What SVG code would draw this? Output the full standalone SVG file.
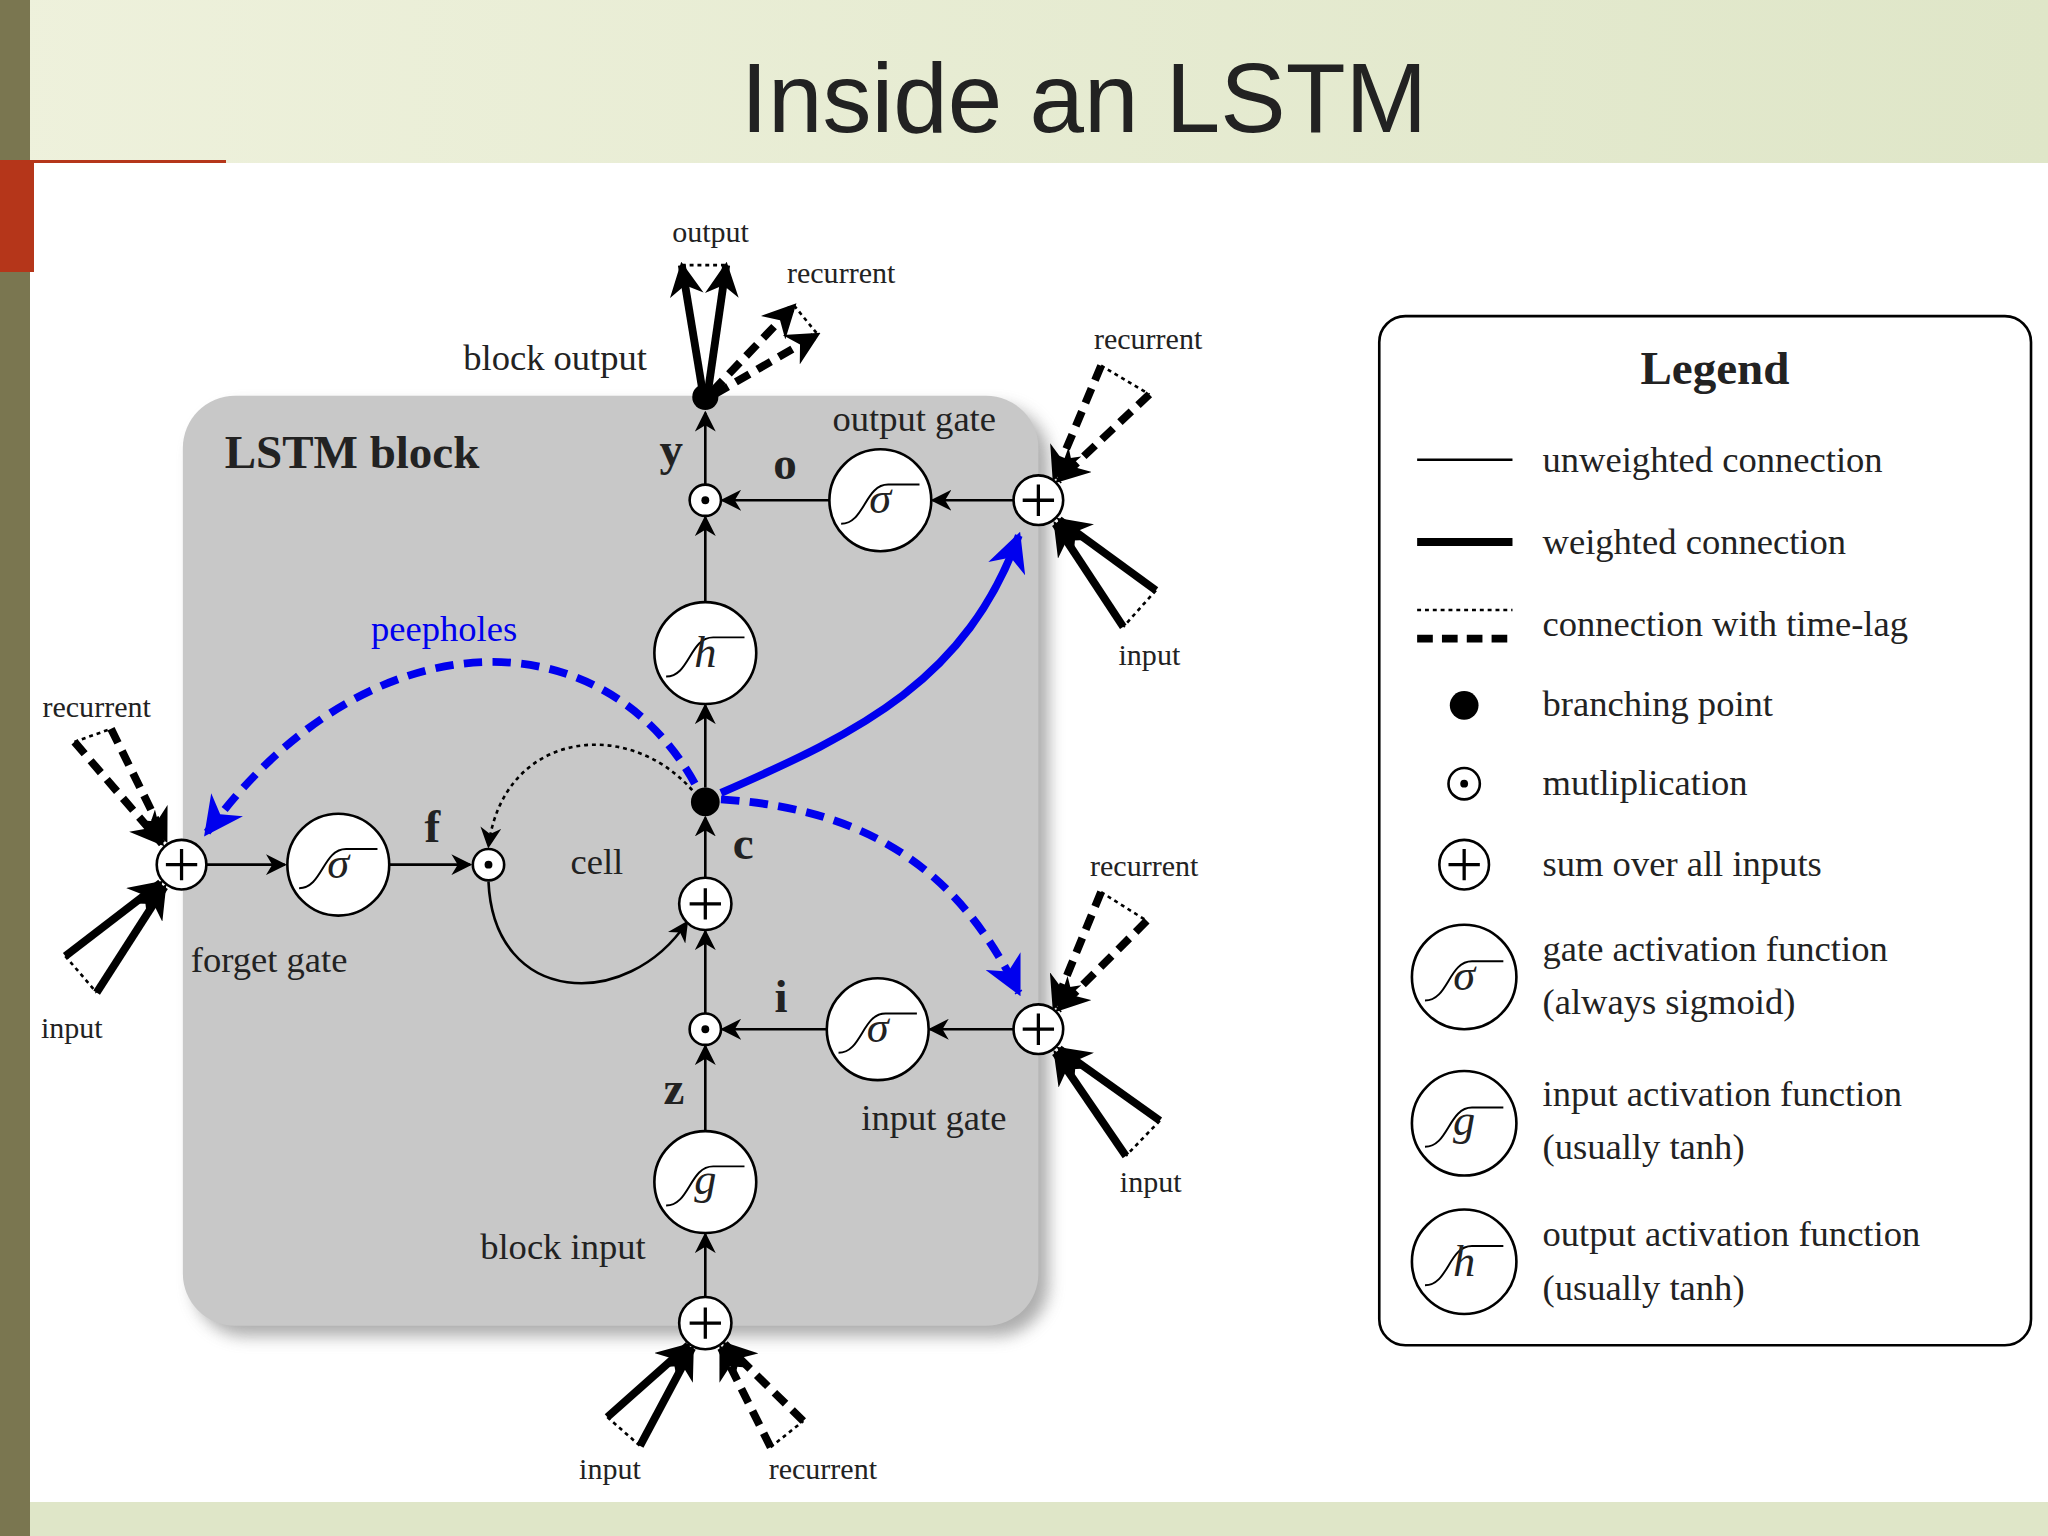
<svg xmlns="http://www.w3.org/2000/svg" width="2048" height="1536" viewBox="0 0 2048 1536">
<defs>
<linearGradient id="bg" x1="0" y1="0" x2="1" y2="0"><stop offset="0" stop-color="#eef1dc"/><stop offset="1" stop-color="#dfe6c8"/></linearGradient>
<marker id="ah" viewBox="0 0 10 10" refX="9" refY="5" markerWidth="16" markerHeight="16" markerUnits="userSpaceOnUse" orient="auto"><path d="M0,0 L10,5 L0,10 L3,5 Z" fill="#000"/></marker>
<marker id="ahb" viewBox="0 0 10 10" refX="9" refY="5" markerWidth="26" markerHeight="26" markerUnits="userSpaceOnUse" orient="auto"><path d="M0,0 L10,5 L0,10 L3,5 Z" fill="#000"/></marker>
<marker id="ahblue" viewBox="0 0 10 10" refX="9" refY="5" markerWidth="30" markerHeight="30" markerUnits="userSpaceOnUse" orient="auto"><path d="M0,0 L10,5 L0,10 L3,5 Z" fill="#0000ee"/></marker>
<filter id="sh" x="-5%" y="-5%" width="115%" height="115%"><feGaussianBlur stdDeviation="6"/></filter>
</defs>
<style>
.t{font-family:"Liberation Serif",serif;font-size:28px;fill:#222}
.s{font-family:"Liberation Serif",serif;font-size:23px;fill:#222}
.b{font-family:"Liberation Serif",serif;font-size:36px;font-weight:bold;fill:#222}
.n{fill:#fff;stroke:#000;stroke-width:2}
.thin{stroke:#000;stroke-width:2;fill:none;marker-end:url(#ah)}
.w{stroke:#000;stroke-width:6;fill:none;marker-end:url(#ahb)}
.d{stroke:#000;stroke-width:6;stroke-dasharray:12 7;fill:none;marker-end:url(#ahb)}
.dot{stroke:#000;stroke-width:2;stroke-dasharray:3 3;fill:none}
.sig{fill:none;stroke:#000;stroke-width:1.5}
.it{font-family:"Liberation Serif",serif;font-style:italic;font-size:34px;fill:#222}
</style>
<rect width="2048" height="1536" fill="#fff"/>
<rect width="2048" height="163" fill="url(#bg)"/>
<rect y="1502" width="2048" height="34" fill="#dfe6c8"/>
<rect width="30" height="1536" fill="#7a7650"/>
<rect y="160" width="34" height="112" fill="#b5361a"/>
<rect y="160" width="226" height="3" fill="#b5361a"/>
<text x="1084" y="132" text-anchor="middle" font-family="Liberation Sans,sans-serif" font-size="98" fill="#222">Inside an LSTM</text>
<g transform="scale(1.30612)">
<g id="block">
<rect x="148" y="311" width="655" height="712" rx="40" fill="#777" opacity="0.6" filter="url(#sh)"/>
<rect x="140" y="303" width="655" height="712" rx="40" fill="#c8c8c8"/>
<text x="172" y="358" class="b" font-size="34">LSTM block</text>
</g>
<g id="connectors">
<line x1="158" y1="662" x2="218" y2="662" class="thin"/>
<line x1="298" y1="662" x2="360" y2="662" class="thin"/>
<line x1="776" y1="383" x2="714" y2="383" class="thin"/>
<line x1="635" y1="383" x2="553" y2="383" class="thin"/>
<line x1="776" y1="788" x2="712" y2="788" class="thin"/>
<line x1="633" y1="788" x2="553" y2="788" class="thin"/>
<line x1="540" y1="993" x2="540" y2="945" class="thin"/>
<line x1="540" y1="866" x2="540" y2="801" class="thin"/>
<line x1="540" y1="776" x2="540" y2="713" class="thin"/>
<line x1="540" y1="672" x2="540" y2="626" class="thin"/>
<line x1="540" y1="603" x2="540" y2="540" class="thin"/>
<line x1="540" y1="461" x2="540" y2="396" class="thin"/>
<line x1="540" y1="371" x2="540" y2="316" class="thin"/>
<path d="M374,675 C378,770 480,775 526,706" class="thin"/>
<path d="M530,605 C480,548 385,560 374,648" class="thin" stroke-dasharray="3 3"/>
<!-- bundles -->
<line x1="465" y1="1085" x2="527" y2="1030" class="w"/><line x1="490" y1="1107" x2="530" y2="1032" class="w"/><line x1="465" y1="1085" x2="490" y2="1107" class="dot"/>
<line x1="590" y1="1108" x2="552" y2="1032" class="d"/><line x1="615" y1="1088" x2="555" y2="1029" class="d"/><line x1="590" y1="1108" x2="615" y2="1088" class="dot"/>
<line x1="50" y1="732" x2="123" y2="676" class="w"/><line x1="74" y1="760" x2="126" y2="679" class="w"/><line x1="50" y1="732" x2="74" y2="760" class="dot"/>
<line x1="57" y1="568" x2="124" y2="646" class="d"/><line x1="85" y1="558" x2="127" y2="643" class="d"/><line x1="57" y1="568" x2="85" y2="558" class="dot"/>
<line x1="843" y1="280" x2="807" y2="366" class="d"/><line x1="880" y1="302" x2="810" y2="368" class="d"/><line x1="843" y1="280" x2="880" y2="302" class="dot"/>
<line x1="885" y1="452" x2="811" y2="398" class="w"/><line x1="860" y1="480" x2="808" y2="401" class="w"/><line x1="885" y1="452" x2="860" y2="480" class="dot"/>
<line x1="843" y1="683" x2="807" y2="771" class="d"/><line x1="878" y1="705" x2="810" y2="773" class="d"/><line x1="843" y1="683" x2="878" y2="705" class="dot"/>
<line x1="888" y1="858" x2="811" y2="803" class="w"/><line x1="862" y1="885" x2="808" y2="806" class="w"/><line x1="888" y1="858" x2="862" y2="885" class="dot"/>
<line x1="538" y1="300" x2="522" y2="203" class="w"/><line x1="542" y1="300" x2="556" y2="203" class="w"/><line x1="522" y1="203" x2="556" y2="203" class="dot"/>
<line x1="545" y1="300" x2="608" y2="234" class="d"/><line x1="547" y1="302" x2="626" y2="256" class="d"/><line x1="608" y1="234" x2="626" y2="256" class="dot"/>
<!-- blue -->
<path d="M552,607 C660,560 740,520 780,410" stroke="#0000ee" stroke-width="6" fill="none" marker-end="url(#ahblue)"/>
<path d="M532,600 C460,470 280,470 158,638" stroke="#0000ee" stroke-width="6" stroke-dasharray="14 8" fill="none" marker-end="url(#ahblue)"/>
<path d="M552,612 C680,620 740,680 780,760" stroke="#0000ee" stroke-width="6" stroke-dasharray="14 8" fill="none" marker-end="url(#ahblue)"/>
</g>
<g id="bp_top"><circle cx="540" cy="304" r="10" fill="#000"/></g>
<g id="bp_c"><circle cx="540" cy="614" r="11" fill="#000"/></g>
<g id="mult_o"><circle cx="540" cy="383" r="12" class="n"/><circle cx="540" cy="383" r="3"/></g>
<g id="mult_i"><circle cx="540" cy="788" r="12" class="n"/><circle cx="540" cy="788" r="3"/></g>
<g id="mult_f"><circle cx="374" cy="662" r="12" class="n"/><circle cx="374" cy="662" r="3"/></g>
<g id="sum_c"><circle cx="540" cy="692" r="20" class="n"/><path d="M528,692 H552 M540,680 V704" stroke="#000" stroke-width="2.5"/></g>
<g id="sum_in"><circle cx="540" cy="1013" r="20" class="n"/><path d="M528,1013 H552 M540,1001 V1025" stroke="#000" stroke-width="2.5"/></g>
<g id="sum_o"><circle cx="795" cy="383" r="19" class="n"/><path d="M783,383 H807 M795,371 V395" stroke="#000" stroke-width="2.5"/></g>
<g id="sum_i"><circle cx="795" cy="788" r="19" class="n"/><path d="M783,788 H807 M795,776 V800" stroke="#000" stroke-width="2.5"/></g>
<g id="sum_f"><circle cx="139" cy="662" r="19" class="n"/><path d="M127,662 H151 M139,650 V674" stroke="#000" stroke-width="2.5"/></g>
<g id="h"><circle cx="540" cy="500" r="39" class="n"/><path d="M510,518 C528,518 528,488 546,488 L570,488" class="sig"/><text x="540" y="511" text-anchor="middle" class="it">h</text></g>
<g id="g"><circle cx="540" cy="905" r="39" class="n"/><path d="M510,923 C528,923 528,893 546,893 L570,893" class="sig"/><text x="540" y="914" text-anchor="middle" class="it">g</text></g>
<g id="sig_o"><circle cx="674" cy="383" r="39" class="n"/><path d="M644,401 C662,401 662,371 680,371 L704,371" class="sig"/><text x="674" y="393" text-anchor="middle" class="it">σ</text></g>
<g id="sig_i"><circle cx="672" cy="788" r="39" class="n"/><path d="M642,806 C660,806 660,776 678,776 L702,776" class="sig"/><text x="672" y="798" text-anchor="middle" class="it">σ</text></g>
<g id="sig_f"><circle cx="259" cy="662" r="39" class="n"/><path d="M229,680 C247,680 247,650 265,650 L289,650" class="sig"/><text x="259" y="672" text-anchor="middle" class="it">σ</text></g>
<g id="labels">
<text x="544" y="185" class="s" text-anchor="middle">output</text>
<text x="644" y="217" class="s" text-anchor="middle">recurrent</text>
<text x="425" y="283" class="t" text-anchor="middle">block output</text>
<text x="879" y="267" class="s" text-anchor="middle">recurrent</text>
<text x="880" y="509" class="s" text-anchor="middle">input</text>
<text x="700" y="330" class="t" text-anchor="middle">output gate</text>
<text x="514" y="356" class="b" text-anchor="middle">y</text>
<text x="601" y="367" class="b" text-anchor="middle">o</text>
<text x="340" y="491" class="t" text-anchor="middle" fill="#0000ee" style="fill:#0000ee">peepholes</text>
<text x="74" y="549" class="s" text-anchor="middle">recurrent</text>
<text x="55" y="795" class="s" text-anchor="middle">input</text>
<text x="331" y="645" class="b" text-anchor="middle">f</text>
<text x="457" y="669" class="t" text-anchor="middle">cell</text>
<text x="569" y="658" class="b" text-anchor="middle">c</text>
<text x="206" y="744" class="t" text-anchor="middle">forget gate</text>
<text x="876" y="671" class="s" text-anchor="middle">recurrent</text>
<text x="881" y="913" class="s" text-anchor="middle">input</text>
<text x="598" y="775" class="b" text-anchor="middle">i</text>
<text x="516" y="845" class="b" text-anchor="middle">z</text>
<text x="715" y="865" class="t" text-anchor="middle">input gate</text>
<text x="431" y="964" class="t" text-anchor="middle">block input</text>
<text x="467" y="1132" class="s" text-anchor="middle">input</text>
<text x="630" y="1132" class="s" text-anchor="middle">recurrent</text>
</g>
<g id="legend">
<rect x="1056" y="242" width="499" height="788" rx="20" fill="#fff" stroke="#000" stroke-width="2"/>
<text x="1313" y="294" class="b" font-size="38" text-anchor="middle">Legend</text>
<line x1="1085" y1="352" x2="1158" y2="352" stroke="#000" stroke-width="2"/>
<line x1="1085" y1="415" x2="1158" y2="415" stroke="#000" stroke-width="6"/>
<line x1="1085" y1="467" x2="1158" y2="467" class="dot"/>
<line x1="1085" y1="489" x2="1158" y2="489" stroke="#000" stroke-width="6" stroke-dasharray="12 7"/>
<circle cx="1121" cy="540" r="11" fill="#000"/>
<circle cx="1121" cy="600" r="12" class="n"/><circle cx="1121" cy="600" r="3"/>
<circle cx="1121" cy="662" r="19" class="n"/><path d="M1109,662 H1133 M1121,650 V674" stroke="#000" stroke-width="2.5"/>
<circle cx="1121" cy="748" r="40" class="n"/><path d="M1091,766 C1109,766 1109,736 1127,736 L1151,736" class="sig"/><text x="1121" y="758" text-anchor="middle" class="it">σ</text>
<circle cx="1121" cy="860" r="40" class="n"/><path d="M1091,878 C1109,878 1109,848 1127,848 L1151,848" class="sig"/><text x="1121" y="869" text-anchor="middle" class="it">g</text>
<circle cx="1121" cy="966" r="40" class="n"/><path d="M1091,984 C1109,984 1109,954 1127,954 L1151,954" class="sig"/><text x="1121" y="977" text-anchor="middle" class="it">h</text>
<text x="1181" y="361" class="t">unweighted connection</text>
<text x="1181" y="424" class="t">weighted connection</text>
<text x="1181" y="487" class="t">connection with time-lag</text>
<text x="1181" y="548" class="t">branching point</text>
<text x="1181" y="609" class="t">mutliplication</text>
<text x="1181" y="671" class="t">sum over all inputs</text>
<text x="1181" y="736" class="t">gate activation function</text>
<text x="1181" y="776" class="t">(always sigmoid)</text>
<text x="1181" y="847" class="t">input activation function</text>
<text x="1181" y="887" class="t">(usually tanh)</text>
<text x="1181" y="954" class="t">output activation function</text>
<text x="1181" y="995" class="t">(usually tanh)</text>
</g>
</g>
</svg>
